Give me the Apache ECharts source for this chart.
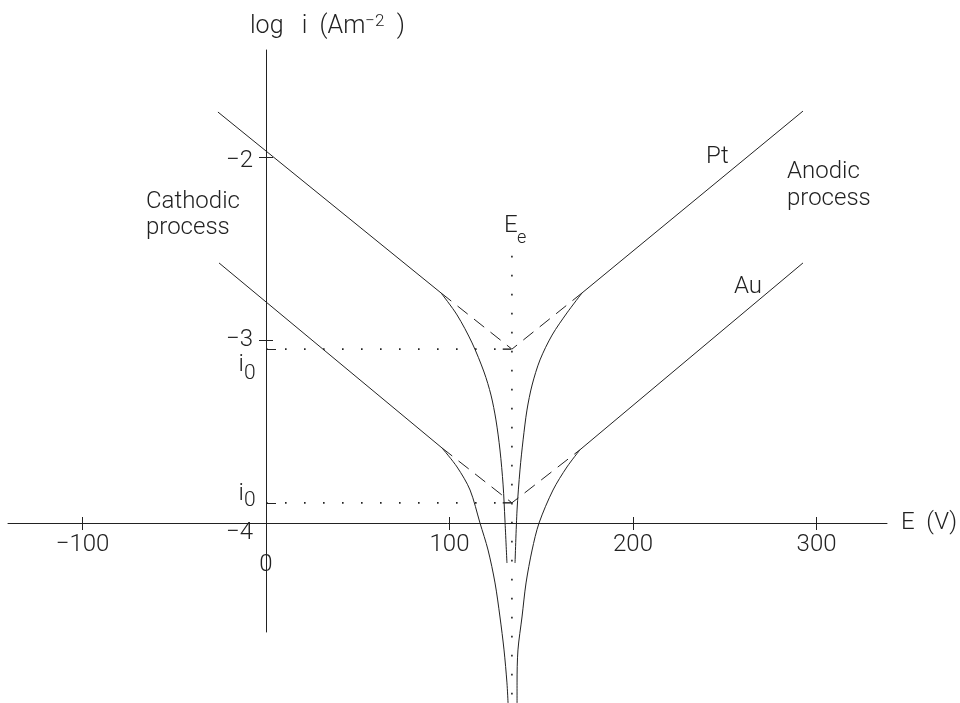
<!DOCTYPE html>
<html>
<head>
<meta charset="utf-8">
<script src="https://cdn.jsdelivr.net/npm/echarts@6/dist/echarts.min.js"></script>
<style>
  html, body { margin: 0; padding: 0; background: #fff; }
  #chart { width: 960px; height: 703px; }
</style>
</head>
<body>
<div id="chart"></div>
<script>
// Axis ticks
const potentialTicks = [-100, 0, 100, 200, 300];
const logCurrentTicks = [-4, -3, -2];

// Equilibrium potential and log of the exchange current densities
const Ee = 134;
const logI0Pt = -3.05;
const logI0Au = -3.89;

// Extent of the dotted equilibrium-potential marker (log i)
const eeMarkerLog = [-2.54, -4.99];

// Tafel lines [E, log i]
const ptCathodic = [[-26.2, -1.754], [95.4, -2.743]];
const ptAnodic = [[172.2, -2.743], [292.6, -1.749]];
const auCathodic = [[-25.6, -2.579], [95.9, -3.590]];
const auAnodic = [[171.1, -3.600], [292.6, -2.579]];

// Net current near equilibrium [E, log |i|]
const ptNetCathodic = [[95.4, -2.743], [104.1, -2.863], [112.3, -3.016], [118.8, -3.175], [122.6, -3.301],
  [125.3, -3.437], [127.5, -3.601], [129.2, -3.792], [130.2, -3.984], [131.3, -4.219]];
const ptNetAnodic = [[172.2, -2.743], [164.0, -2.852], [155.9, -2.973], [149.3, -3.109], [145.0, -3.246],
  [142.2, -3.383], [140.1, -3.546], [138.4, -3.710], [136.8, -3.929], [135.7, -4.219]];
const auNetCathodic = [[95.9, -3.590], [104.1, -3.694], [111.2, -3.820], [116.6, -4.000], [121.0, -4.148],
  [124.8, -4.328], [127.5, -4.514], [129.7, -4.694], [131.3, -4.874], [131.9, -4.984]];
const auNetAnodic = [[171.1, -3.600], [164.0, -3.694], [156.4, -3.820], [148.8, -4.000], [145.0, -4.148],
  [141.7, -4.328], [139.5, -4.514], [137.3, -4.694], [136.8, -4.874], [136.8, -4.984]];

const INK = '#222';
const FONT = 'Roboto';
const WEIGHT = 300;
const txt = { color: INK, fontFamily: FONT, fontWeight: WEIGHT, fontSize: 24 };
const minus = v => String(v).replace('-', '\u2212');

const solid = { color: INK, width: 1 };
const dashed = { color: INK, width: 1, type: [13, 8] };
const dotted = { color: INK, width: 1.6, type: [1.6, 17.4] };

function path(data, lineStyle, extra) {
  return Object.assign({
    type: 'line', data, symbol: 'none', showSymbol: false, clip: false,
    silent: true, animation: false, lineStyle
  }, extra || {});
}

// Extrapolated Tafel lines meet at (Ee, log i0)
const ptDashed = [ptCathodic[1], [Ee, logI0Pt], ptAnodic[0]];
const auDashed = [auCathodic[1], [Ee, logI0Au], auAnodic[0]];

const series = [
  path(ptCathodic, solid), path(ptAnodic, solid),
  path(auCathodic, solid), path(auAnodic, solid),
  path(ptDashed, dashed), path(auDashed, dashed),
  path(ptNetCathodic, solid, { smooth: 0.3 }), path(ptNetAnodic, solid, { smooth: 0.3 }),
  path(auNetCathodic, solid, { smooth: 0.3 }), path(auNetAnodic, solid, { smooth: 0.3 }),
  path([[Ee, eeMarkerLog[0]], [Ee, eeMarkerLog[1]]], dotted),
  path([[0, logI0Pt], [Ee - 5, logI0Pt]], dotted),
  path([[0, logI0Au], [Ee - 5, logI0Au]], dotted),
  path([[Ee - 5, logI0Pt], [Ee - 0.5, logI0Pt]], { color: INK, width: 1.4 }),
  path([[Ee - 5, logI0Au], [Ee - 0.5, logI0Au]], { color: INK, width: 1.4 })
];

const xRange = { min: -140.6, max: 338.4 };
const yRange = { min: -4.596, max: -1.415 };
const xOffset = -109;   // x axis drawn at log i = -4
const yOffset = -258;   // y axis drawn at E = 0

const chart = echarts.init(document.getElementById('chart'), null, { renderer: 'canvas' });
chart.setOption({
  animation: false,
  backgroundColor: '#fff',
  grid: { left: 8, right: 73, top: 50, bottom: 71, outerBoundsMode: 'none' },
  xAxis: [
    {
      type: 'value', ...xRange, position: 'bottom', offset: xOffset,
      axisLine: { show: true, onZero: false, lineStyle: { color: INK, width: 1 } },
      axisTick: { show: true, inside: false, length: 7, lineStyle: { color: INK }, customValues: [-100, 100, 200, 300] },
      axisLabel: {
        customValues: potentialTicks, margin: 10, ...txt,
        formatter: v => v === 0 ? '{low|0}' : '{n|' + minus(v) + '}',
        rich: { n: { ...txt }, low: { ...txt, padding: [20, 0, 0, 0] } }
      },
      splitLine: { show: false },
      name: 'E  (V)', nameLocation: 'end', nameGap: 14,
      nameTextStyle: { ...txt, verticalAlign: 'middle' }
    },
    {
      type: 'value', ...xRange, position: 'bottom', offset: xOffset,
      axisLine: { show: false, onZero: false },
      axisTick: { show: true, inside: true, length: 6, lineStyle: { color: INK }, customValues: [-100, 100, 200, 300] },
      axisLabel: { show: false },
      splitLine: { show: false }
    }
  ],
  yAxis: [
    {
      type: 'value', ...yRange, position: 'left', offset: yOffset,
      axisLine: { show: true, onZero: false, lineStyle: { color: INK, width: 1 } },
      axisTick: { show: true, inside: false, length: 7, lineStyle: { color: INK }, customValues: [-3, -2] },
      axisLabel: {
        customValues: logCurrentTicks, margin: 13, ...txt,
        formatter: v => v === -4 ? '{low|' + minus(v) + '}' : v === -2 ? '{mid|' + minus(v) + '}' : '{n|' + minus(v) + '}',
        rich: {
          n: { ...txt },
          mid: { ...txt, padding: [8, 0, 0, 0] },
          low: { ...txt, padding: [20, 0, 0, 0] }
        }
      },
      splitLine: { show: false }
    },
    {
      type: 'value', ...yRange, position: 'left', offset: yOffset,
      axisLine: { show: false, onZero: false },
      axisTick: { show: true, inside: true, length: 7, lineStyle: { color: INK }, customValues: [-3, -2] },
      axisLabel: { show: false },
      splitLine: { show: false }
    },
    {
      type: 'value', ...yRange, position: 'left', offset: yOffset,
      axisLine: { show: false, onZero: false },
      axisTick: { show: true, inside: true, length: 10, lineStyle: { color: INK }, customValues: [logI0Pt, logI0Au] },
      axisLabel: { show: false },
      splitLine: { show: false }
    }
  ],
  graphic: [
    {
      type: 'text', x: 250, y: 27, silent: true,
      style: {
        text: '{a|log   i  (Am}{s|\u22122}{a|  )}', verticalAlign: 'middle', align: 'left',
        rich: {
          a: { fontFamily: FONT, fontWeight: WEIGHT, fontSize: 25, fill: INK, lineHeight: 28 },
          s: { fontFamily: FONT, fontWeight: WEIGHT, fontSize: 17, fill: INK, verticalAlign: 'top', lineHeight: 17 }
        }
      }
    },
    { type: 'text', x: 146, y: 189, silent: true,
      style: { text: 'Cathodic\nprocess', fontFamily: FONT, fontWeight: WEIGHT, fontSize: 24, lineHeight: 26, fill: INK, align: 'left', verticalAlign: 'top' } },
    { type: 'text', x: 787, y: 158, silent: true,
      style: { text: 'Anodic\nprocess', fontFamily: FONT, fontWeight: WEIGHT, fontSize: 24, lineHeight: 27, fill: INK, align: 'left', verticalAlign: 'top' } },
    { type: 'text', x: 706, y: 157, silent: true,
      style: { text: 'Pt', fontFamily: FONT, fontWeight: WEIGHT, fontSize: 24, fill: INK, align: 'left', verticalAlign: 'middle' } },
    { type: 'text', x: 734, y: 287, silent: true,
      style: { text: 'Au', fontFamily: FONT, fontWeight: WEIGHT, fontSize: 24, fill: INK, align: 'left', verticalAlign: 'middle' } },
    { type: 'text', x: 504, y: 226, silent: true,
      style: { text: 'E', fontFamily: FONT, fontWeight: WEIGHT, fontSize: 24, fill: INK, align: 'left', verticalAlign: 'middle' } },
    { type: 'text', x: 517, y: 238, silent: true,
      style: { text: 'e', fontFamily: FONT, fontWeight: WEIGHT, fontSize: 18, fill: INK, align: 'left', verticalAlign: 'middle' } },
    { type: 'text', x: 244, y: 365, silent: true,
      style: { text: 'i', fontFamily: FONT, fontWeight: WEIGHT, fontSize: 24, fill: INK, align: 'right', verticalAlign: 'middle' } },
    { type: 'text', x: 244, y: 374, silent: true,
      style: { text: '0', fontFamily: FONT, fontWeight: WEIGHT, fontSize: 21, fill: INK, align: 'left', verticalAlign: 'middle' } },
    { type: 'text', x: 244, y: 494, silent: true,
      style: { text: 'i', fontFamily: FONT, fontWeight: WEIGHT, fontSize: 24, fill: INK, align: 'right', verticalAlign: 'middle' } },
    { type: 'text', x: 244, y: 501, silent: true,
      style: { text: '0', fontFamily: FONT, fontWeight: WEIGHT, fontSize: 21, fill: INK, align: 'left', verticalAlign: 'middle' } }
  ],
  series
});
</script>
</body>
</html>
